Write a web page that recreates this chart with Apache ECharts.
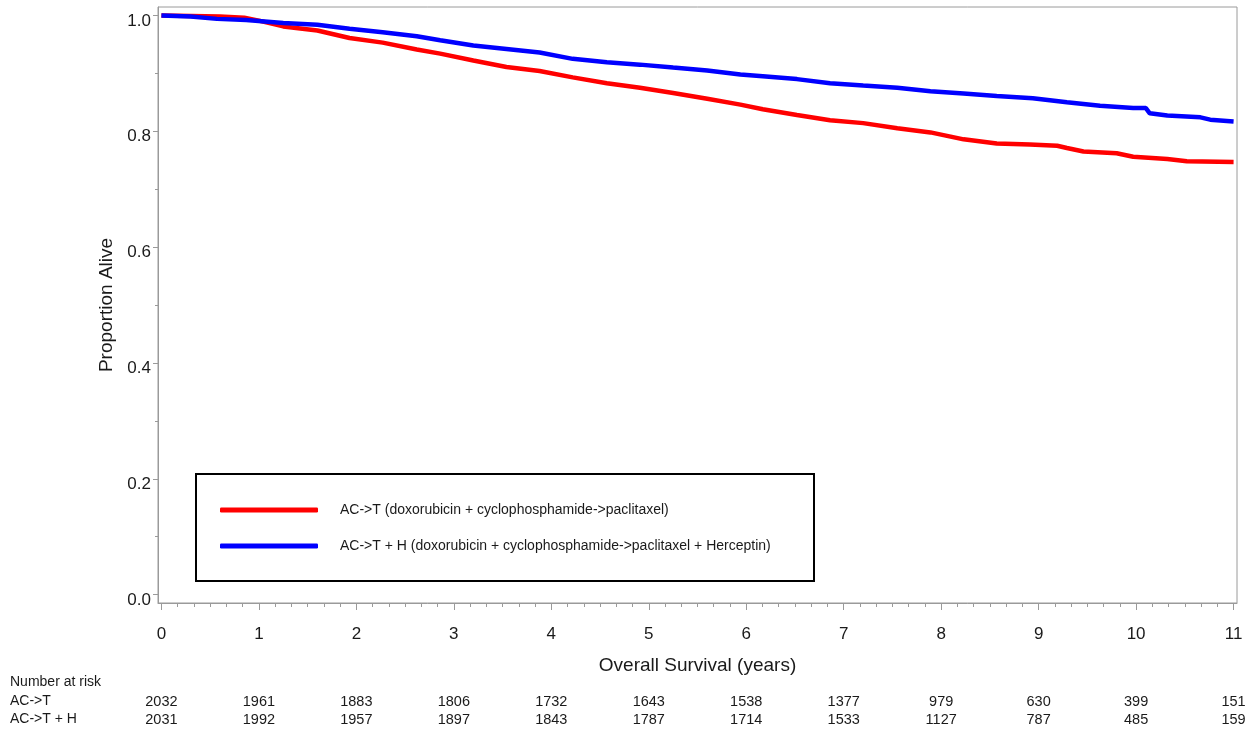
<!DOCTYPE html>
<html>
<head>
<meta charset="utf-8">
<title>Overall Survival</title>
<script src="https://cdn.jsdelivr.net/npm/echarts@6/dist/echarts.min.js"></script>
<style>
  html, body { margin: 0; padding: 0; background: #fff; }
  #chart { width: 1253px; height: 732px; }
</style>
</head>
<body>
<div id="chart"></div>
<script>
// KM curves: [years, proportion alive]
var acT = [
  [0, 1.0], [0.3, 0.999], [0.6, 0.998], [0.85, 0.996], [1.0, 0.991],
  [1.25, 0.981], [1.6, 0.974], [1.93, 0.961], [2.27, 0.953], [2.62, 0.941],
  [2.86, 0.934], [3.2, 0.922], [3.54, 0.911], [3.88, 0.904], [4.22, 0.893],
  [4.57, 0.883], [4.91, 0.875], [5.25, 0.866], [5.6, 0.856], [5.94, 0.846],
  [6.17, 0.838], [6.52, 0.828], [6.86, 0.819], [7.2, 0.814], [7.55, 0.805],
  [7.89, 0.798], [8.23, 0.786], [8.57, 0.779], [8.91, 0.777], [9.19, 0.775],
  [9.29, 0.771], [9.46, 0.765], [9.8, 0.762], [9.97, 0.756], [10.32, 0.752],
  [10.52, 0.748], [11.0, 0.747]
];
var acTH = [
  [0, 1.0], [0.3, 0.998], [0.57, 0.994], [0.87, 0.992], [1.25, 0.987],
  [1.6, 0.984], [1.93, 0.977], [2.27, 0.971], [2.62, 0.964], [2.86, 0.957],
  [3.2, 0.948], [3.54, 0.942], [3.88, 0.936], [4.22, 0.925], [4.57, 0.919],
  [4.91, 0.915], [5.25, 0.910], [5.6, 0.905], [5.94, 0.898], [6.17, 0.895],
  [6.52, 0.890], [6.86, 0.883], [7.2, 0.879], [7.55, 0.875], [7.89, 0.869],
  [8.23, 0.865], [8.57, 0.861], [8.94, 0.857], [9.29, 0.850], [9.63, 0.844],
  [9.97, 0.840], [10.1, 0.840], [10.14, 0.831], [10.32, 0.827], [10.66, 0.824],
  [10.76, 0.820], [11.0, 0.817]
];

// number at risk, one per year 0..11
var riskYears = [0, 1, 2, 3, 4, 5, 6, 7, 8, 9, 10, 11];
var riskAcT = [2032, 1961, 1883, 1806, 1732, 1643, 1538, 1377, 979, 630, 399, 151];
var riskAcTH = [2031, 1992, 1957, 1897, 1843, 1787, 1714, 1533, 1127, 787, 485, 159];

var yTicks = [0, 0.2, 0.4, 0.6, 0.8, 1.0];

var seriesNames = [
  'AC->T (doxorubicin + cyclophosphamide->paclitaxel)',
  'AC->T + H (doxorubicin + cyclophosphamide->paclitaxel + Herceptin)'
];

// minor ticks: every 2 months on x, every 0.1 on y
var xMinor = [];
for (var i = 0; i < 11 * 6; i++) { if (i % 6 !== 0) xMinor.push(i / 6); }
var yMinor = [0.1, 0.3, 0.5, 0.7, 0.9];

var FONT = '"Liberation Sans", Arial, sans-serif';
var AXIS_GREY = '#9a9a9a';
var TEXT = '#1a1a1a';

// SAS style: axes sit a little outside the data range
var xMin = -0.035, xMax = 11.035;
var yMin = -0.0145, yMax = 1.0145;

function riskAxis(values, offset) {
  return {
    type: 'value', position: 'bottom', min: xMin, max: xMax, offset: offset,
    axisLine: { show: false, onZero: false }, axisTick: { show: false }, splitLine: { show: false },
    axisLabel: {
      customValues: riskYears, margin: 0, fontSize: 14.5, fontFamily: FONT, color: TEXT,
      formatter: function (v) { return values[Math.round(v)]; }
    }
  };
}

var chart = echarts.init(document.getElementById('chart'));

var option = {
  animation: false,
  backgroundColor: '#fff',
  grid: {
    left: 158, top: 7, right: 16, bottom: 129,
    outerBoundsMode: 'none',
    show: true, borderColor: AXIS_GREY, borderWidth: 1, backgroundColor: 'transparent'
  },
  legend: {
    orient: 'vertical', left: 215, top: 498,
    itemWidth: 98, itemHeight: 5, itemGap: 22,
    icon: 'roundRect',
    textStyle: { fontSize: 14, fontFamily: FONT, color: TEXT, padding: [0, 0, 0, 17] },
    data: seriesNames
  },
  xAxis: [
    {
      type: 'value', position: 'bottom', min: xMin, max: xMax,
      name: 'Overall Survival (years)', nameLocation: 'middle', nameGap: 53,
      nameTextStyle: { fontSize: 19, fontFamily: FONT, color: TEXT },
      axisLine: { onZero: false, lineStyle: { color: AXIS_GREY, width: 1 } },
      axisTick: { customValues: riskYears, length: 7, lineStyle: { color: AXIS_GREY } },
      axisLabel: { customValues: riskYears, margin: 23, fontSize: 17, fontFamily: FONT, color: TEXT },
      splitLine: { show: false }
    },
    {
      type: 'value', position: 'bottom', min: xMin, max: xMax,
      axisLine: { show: false, onZero: false },
      axisTick: { customValues: xMinor, length: 4, lineStyle: { color: AXIS_GREY } },
      axisLabel: { show: false }, splitLine: { show: false }
    },
    riskAxis(riskAcT, 91),
    riskAxis(riskAcTH, 109)
  ],
  yAxis: [
    {
      type: 'value', position: 'left', min: yMin, max: yMax,
      name: 'Proportion Alive', nameLocation: 'middle', nameGap: 40,
      nameTextStyle: { fontSize: 19, fontFamily: FONT, color: TEXT },
      axisLine: { show: true, onZero: false, lineStyle: { color: AXIS_GREY, width: 1 } },
      axisTick: { show: true, customValues: yTicks, length: 5, lineStyle: { color: AXIS_GREY } },
      axisLabel: {
        customValues: yTicks, margin: 7, fontSize: 17, fontFamily: FONT, color: TEXT,
        verticalAlign: 'top', lineHeight: 11,   // labels sit a bit below their tick
        formatter: function (v) { return v.toFixed(1); }
      },
      splitLine: { show: false }
    },
    {
      type: 'value', position: 'left', min: yMin, max: yMax,
      axisLine: { show: false, onZero: false },
      axisTick: { show: true, customValues: yMinor, length: 3, lineStyle: { color: AXIS_GREY } },
      axisLabel: { show: false }, splitLine: { show: false }
    }
  ],
  graphic: [
    // legend frame
    { type: 'rect', left: 195, top: 473, z: 1,
      shape: { width: 618, height: 107 },
      style: { fill: '#fff', stroke: '#000', lineWidth: 2 } },
    // risk table row labels
    { type: 'text', left: 10, top: 675, style: { text: 'Number at risk', font: '14px ' + FONT, fill: TEXT } },
    { type: 'text', left: 10, top: 694, style: { text: 'AC->T', font: '14px ' + FONT, fill: TEXT } },
    { type: 'text', left: 10, top: 712, style: { text: 'AC->T + H', font: '14px ' + FONT, fill: TEXT } }
  ],
  series: [
    {
      name: seriesNames[0], type: 'line', data: acT, showSymbol: false, z: 3,
      itemStyle: { color: '#ff0000' },
      lineStyle: { color: '#ff0000', width: 4.5 }
    },
    {
      name: seriesNames[1], type: 'line', data: acTH, showSymbol: false, z: 4,
      itemStyle: { color: '#0000ff' },
      lineStyle: { color: '#0000ff', width: 4.5 }
    }
  ]
};

chart.setOption(option);
</script>
</body>
</html>
